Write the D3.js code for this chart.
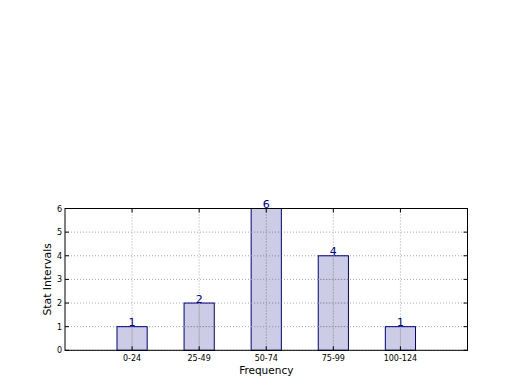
<!DOCTYPE html>
<html><head><meta charset="utf-8">
<script src="https://cdn.jsdelivr.net/npm/d3@7"></script>
<style>body{margin:0;background:#fff}svg{display:block}text{font-family:"DejaVu Sans",sans-serif}</style>
</head><body>
<svg id="c" width="520" height="390"></svg>
<script>
const categories = ["0-24","25-49","50-74","75-99","100-124"];
const values = [1,2,6,4,1];
const yTicks = [0,1,2,3,4,5,6];

const svg = d3.select("#c");
const L=65, R=467.5, T=208.5, B=350.3;
const x = d3.scaleLinear().domain([0,6]).range([L,R]);
const y = d3.scaleLinear().domain([0,6]).range([B,T]);
const bw = 0.45;

const g = svg.append("g");
yTicks.forEach(t=>{
  g.append("line").attr("x1",L).attr("x2",R).attr("y1",y(t)).attr("y2",y(t))
   .attr("stroke","#aaa").attr("stroke-dasharray","1,2").attr("stroke-width",1);
});
categories.forEach((c,i)=>{
  g.append("line").attr("x1",x(i+1)).attr("x2",x(i+1)).attr("y1",T).attr("y2",B)
   .attr("stroke","#aaa").attr("stroke-dasharray","1,2").attr("stroke-width",1);
});

svg.append("g").selectAll("rect").data(values).join("rect")
  .attr("x",(d,i)=>x(i+1-bw/2)).attr("width",x(bw)-x(0))
  .attr("y",d=>y(d)).attr("height",d=>B-y(d))
  .attr("fill","rgba(0,0,128,0.2)").attr("stroke","#000080").attr("stroke-width",1);

categories.forEach((c,i)=>{
  svg.append("line").attr("x1",x(i+1)).attr("x2",x(i+1)).attr("y1",y(values[i])).attr("y2",B)
   .attr("stroke","#aaa").attr("stroke-dasharray","1,2").attr("stroke-width",1);
});
yTicks.forEach(t=>{
  values.forEach((v,i)=>{
    if(t>0 && t<v){
      svg.append("line").attr("x1",x(i+1-bw/2)).attr("x2",x(i+1+bw/2)).attr("y1",y(t)).attr("y2",y(t))
       .attr("stroke","#aaa").attr("stroke-dasharray","1,2");
    }
  });
});

svg.append("g").selectAll("text").data(values).join("text")
  .attr("x",(d,i)=>x(i+1)).attr("y",d=>y(d)-0.5)
  .attr("text-anchor","middle").attr("font-size",11).attr("fill","#000080")
  .text(d=>d);

svg.append("rect").attr("x",L).attr("y",T).attr("width",R-L).attr("height",B-T)
  .attr("fill","none").attr("stroke","#000").attr("stroke-width",1);

yTicks.forEach(t=>{
  svg.append("line").attr("x1",L).attr("x2",L+4).attr("y1",y(t)).attr("y2",y(t)).attr("stroke","#000");
  svg.append("line").attr("x1",R-4).attr("x2",R).attr("y1",y(t)).attr("y2",y(t)).attr("stroke","#000");
  svg.append("text").attr("x",L-3).attr("y",y(t)+3).attr("text-anchor","end").attr("font-size",8).text(t);
});
categories.forEach((c,i)=>{
  svg.append("line").attr("x1",x(i+1)).attr("x2",x(i+1)).attr("y1",B).attr("y2",B-4).attr("stroke","#000");
  svg.append("line").attr("x1",x(i+1)).attr("x2",x(i+1)).attr("y1",T).attr("y2",T+4).attr("stroke","#000");
  svg.append("text").attr("x",x(i+1)).attr("y",B+10.5).attr("text-anchor","middle").attr("font-size",8).text(c);
});

svg.append("text").attr("x",(L+R)/2).attr("y",374).attr("text-anchor","middle").attr("font-size",10.5).text("Frequency");
svg.append("text").attr("transform",`translate(51,${(T+B)/2}) rotate(-90)`).attr("text-anchor","middle").attr("font-size",10.8).text("Stat Intervals");
</script>
</body></html>
